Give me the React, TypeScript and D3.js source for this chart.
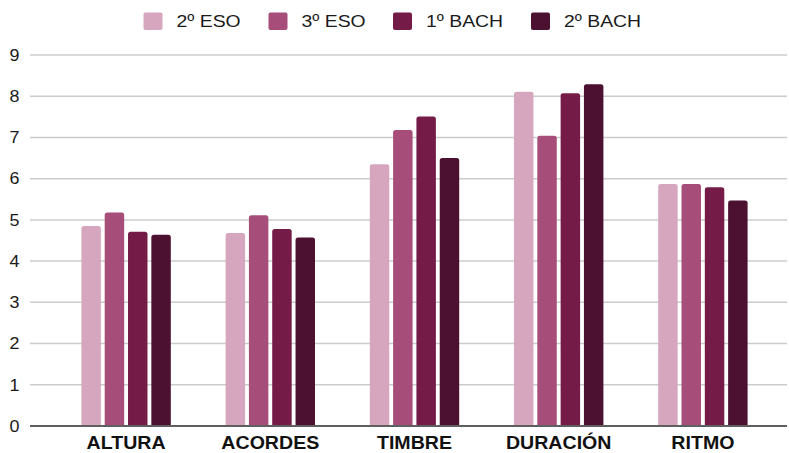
import React from "react";
import * as d3 from "d3";

const categories = ["ALTURA", "ACORDES", "TIMBRE", "DURACIÓN", "RITMO"];
const seriesNames = ["2º ESO", "3º ESO", "1º BACH", "2º BACH"];
const eso2 = [4.85, 4.68, 6.35, 8.11, 5.87];
const eso3 = [5.18, 5.11, 7.18, 7.04, 5.87];
const bach1 = [4.71, 4.78, 7.51, 8.07, 5.79];
const bach2 = [4.64, 4.57, 6.5, 8.29, 5.47];
const seriesValues = [eso2, eso3, bach1, bach2];
const colors = ["#d5a6bd", "#a64d79", "#741b47", "#4c1130"];
const yTicks = [0, 1, 2, 3, 4, 5, 6, 7, 8, 9];

const W = 789;
const H = 453;
const FONT = "'Liberation Sans', Arial, sans-serif";
const SX = 1.12; // horizontal stretch of text

function topRoundedBar(x: number, y: number, w: number, h: number, r: number) {
  const rr = Math.min(r, h, w / 2);
  const p = d3.path();
  p.moveTo(x, y + h);
  p.lineTo(x, y + rr);
  p.quadraticCurveTo(x, y, x + rr, y);
  p.lineTo(x + w - rr, y);
  p.quadraticCurveTo(x + w, y, x + w, y + rr);
  p.lineTo(x + w, y + h);
  p.closePath();
  return p.toString();
}

export default function App() {
  const y = d3.scaleLinear().domain([0, 9]).range([426, 55]);
  const x0 = d3
    .scaleBand<string>()
    .domain(categories)
    .range([54, 775])
    .paddingInner(0.38)
    .paddingOuter(0.19);
  const x1 = d3
    .scaleBand<string>()
    .domain(seriesNames)
    .range([0, x0.bandwidth()])
    .paddingInner(0.165)
    .paddingOuter(0);

  const legendSwatchX = [143.5, 268.5, 393, 531];

  return (
    <svg
      width={W}
      height={H}
      style={{ position: "absolute", left: 0, top: 0, background: "#fff" }}
      fontFamily={FONT}
    >
      {/* legend */}
      {seriesNames.map((name, i) => (
        <g key={name}>
          <rect
            x={legendSwatchX[i]}
            y={12.5}
            width={19}
            height={17.5}
            rx={2}
            fill={colors[i]}
          />
          <text
            transform={`translate(${legendSwatchX[i] + 33},27.3) scale(${SX},1)`}
            fontSize={17.3}
            fill="#1a1a1a"
          >
            {name}
          </text>
        </g>
      ))}

      {/* grid */}
      {yTicks.map((t) =>
        t === 0 ? null : (
          <line
            key={t}
            x1={30}
            x2={787}
            y1={y(t)}
            y2={y(t)}
            stroke="#cccccc"
            strokeWidth={1.5}
          />
        )
      )}
      {yTicks.map((t) => (
        <text
          key={"l" + t}
          transform={`translate(19.5,${y(t) + 5.8}) scale(${SX},1)`}
          textAnchor="end"
          fontSize={16}
          fill="#1a1a1a"
        >
          {t}
        </text>
      ))}

      {/* bars */}
      {categories.map((c, ci) => (
        <g key={c} transform={`translate(${x0(c)},0)`}>
          {seriesNames.map((s, si) => {
            const v = seriesValues[si][ci];
            const top = y(v);
            return (
              <path
                key={s}
                d={topRoundedBar(x1(s)!, top, x1.bandwidth(), y(0) - top, 2.5)}
                fill={colors[si]}
              />
            );
          })}
        </g>
      ))}

      {/* baseline */}
      <line x1={30} x2={787} y1={y(0)} y2={y(0)} stroke="#5f5f5f" strokeWidth={2} />

      {/* category labels */}
      {categories.map((c) => (
        <text
          key={"c" + c}
          transform={`translate(${x0(c)! + x0.bandwidth() / 2},449.3) scale(${SX},1)`}
          textAnchor="middle"
          fontSize={17.5}
          fontWeight="bold"
          fill="#111"
        >
          {c}
        </text>
      ))}
    </svg>
  );
}
